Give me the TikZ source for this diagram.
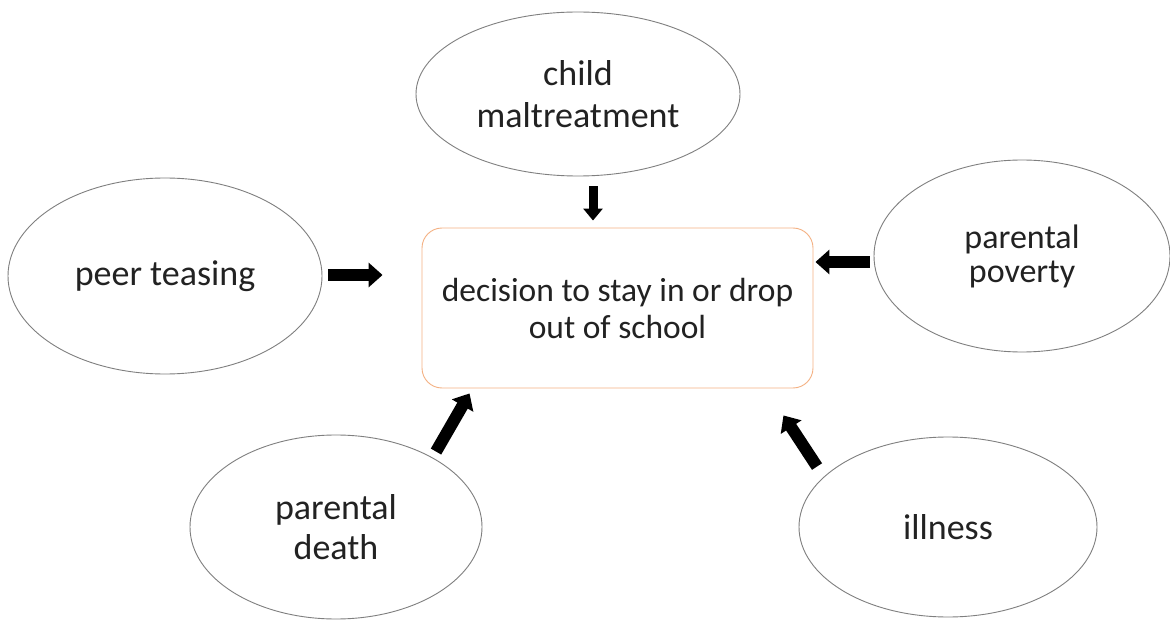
\documentclass[tikz,border=0pt]{standalone}
\usepackage{fontspec}
\setmainfont{Carlito}
\usetikzlibrary{shapes.geometric,arrows.meta,calc}
\definecolor{boxc}{HTML}{F4B183}
\definecolor{ovalc}{HTML}{7F7F7F}
\definecolor{txtc}{HTML}{222222}
\begin{document}
\begin{tikzpicture}[x=1pt,y=-1pt,
  oval/.style={ellipse,draw=ovalc,line width=0.9pt,inner sep=0pt,align=center,text=txtc,font=\fontsize{36}{42}\selectfont},
  dbox/.style={draw=boxc,line width=0.9pt,rounded corners=20pt,align=center,text=txtc,font=\fontsize{33.5}{37}\selectfont,inner sep=0pt},
  blk/.style={draw=black,line width=12pt,-{Triangle[width=24pt,length=14pt]}},
  blks/.style={draw=black,line width=9pt,-{Triangle[width=19pt,length=12pt]}}]
\useasboundingbox (0,0) rectangle (1170,620);
\fill[white] (0,0) rectangle (1170,620);
\node[oval,minimum width=324pt,minimum height=164pt] (child) at (578,94) {child\\maltreatment};
\node[oval,minimum width=314pt,minimum height=196pt] (peer) at (165,276) {peer teasing};
\node[oval,minimum width=296pt,minimum height=192pt,font=\fontsize{34}{34}\selectfont] (pov) at (1022,256) {parental\\poverty};
\node[oval,minimum width=292pt,minimum height=184pt,font=\fontsize{36}{40}\selectfont] (death) at (336,527) {parental\\death};
\node[oval,minimum width=298pt,minimum height=180pt] (ill) at (948,527) {illness};
\node[dbox,minimum width=391pt,minimum height=160pt] (box) at (617.5,308) {decision to stay in or drop\\out of school};
\draw[blk] ($(peer.east)+(6,-1)$) -- ($(box.west)+(-39,-33)$);
\draw[blks] ($(child.south)+(15,10)$) -- ($(box.north)+(-24.5,-7)$);
\draw[blk] ($(pov.west)+(-4,6)$) -- ($(box.east)+(2,-46)$);
\draw[blk] ($(death.north)+(100,17)$) -- ($(box.south west)+(48,5)$);
\draw[blk] ($(ill.north)+(-131,30)$) -- ($(box.south east)+(-30,27)$);
\end{tikzpicture}
\end{document}
